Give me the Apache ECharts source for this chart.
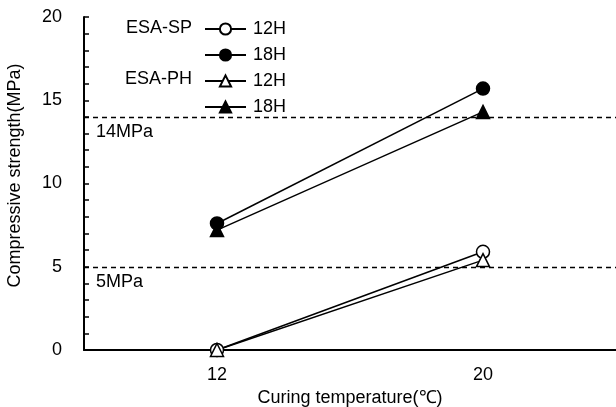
<!DOCTYPE html>
<html><head><meta charset="utf-8">
<script src="https://cdn.jsdelivr.net/npm/echarts@6/dist/echarts.min.js"></script>
<style>html,body{margin:0;padding:0;background:#fff}#c{width:616px;height:407px}</style>
</head><body><div id="c"></div>
<script>
const categories = ['12', '20'];
const spH12 = [0, 5.9];
const spH18 = [7.6, 15.7];
const phH12 = [0, 5.4];
const phH18 = [7.2, 14.3];
const refLines = [14, 5];
const refLabels = ['14MPa', '5MPa'];

const FONT = 'Liberation Sans, Arial, sans-serif';
function mk(name, data, symbol, filled, extra) {
  return Object.assign({
    name: name, type: 'line', data: data, symbol: symbol, symbolSize: 13,
    lineStyle: {color: '#000', width: 1.5},
    itemStyle: {color: filled ? '#000' : '#fff', borderColor: '#000', borderWidth: 1.5},
    z: filled ? 3 : 4
  }, extra || {});
}
const chart = echarts.init(document.getElementById('c'));
chart.setOption({
  animation: false,
  textStyle: {fontFamily: FONT},
  grid: {left: 84, right: 0, top: 17, bottom: 57, containLabel: false, outerBoundsMode: 'none'},
  xAxis: {
    type: 'category', data: categories, boundaryGap: true,
    name: 'Curing temperature(℃)', nameLocation: 'middle', nameGap: 37,
    nameTextStyle: {fontSize: 18, color: '#000', fontFamily: FONT},
    axisLine: {lineStyle: {color: '#000', width: 2}},
    axisTick: {inside: true, length: 5, lineStyle: {color: '#000', width: 1.5}},
    axisLabel: {fontSize: 18, color: '#000', margin: 16, fontFamily: FONT}
  },
  yAxis: {
    type: 'value', min: 0, max: 20, interval: 5,
    name: 'Compressive strength(MPa)', nameLocation: 'middle', nameGap: 60,
    nameTextStyle: {fontSize: 18, color: '#000', fontFamily: FONT, padding: [0, 0, 0, 16]},
    axisLine: {show: true, lineStyle: {color: '#000', width: 2}},
    axisTick: {show: true, inside: true, length: 5, lineStyle: {color: '#000', width: 1.5}},
    minorTick: {show: true, splitNumber: 5, length: 5, lineStyle: {color: '#000', width: 1.5}},
    splitLine: {show: false},
    axisLabel: {fontSize: 18, color: '#000', margin: 22, fontFamily: FONT}
  },
  legend: {
    orient: 'vertical', left: 204, top: 20, padding: 0, itemWidth: 41, itemHeight: 14, itemGap: 8,
    textStyle: {fontSize: 18, color: '#000', fontFamily: FONT, padding: [0,0,0,2]},
    formatter: function (n) { return n.split(' ')[1]; },
    data: ['ESA-SP 12H', 'ESA-SP 18H', 'ESA-PH 12H', 'ESA-PH 18H']
  },
  graphic: [
    {type: 'text', x: 192, y: 28, style: {text: 'ESA-SP', align: 'right', verticalAlign: 'middle', fontSize: 18, fill: '#000', fontFamily: FONT}},
    {type: 'text', x: 192, y: 79, style: {text: 'ESA-PH', align: 'right', verticalAlign: 'middle', fontSize: 18, fill: '#000', fontFamily: FONT}}
  ],
  series: [
    mk('ESA-SP 12H', spH12, 'circle', false, {
      markLine: {
        silent: true, symbol: 'none',
        lineStyle: {color: '#000', type: [5, 4], width: 1.3},
        label: {show: true, position: 'insideStartBottom', formatter: function (p) { return refLabels[p.dataIndex]; }, fontSize: 18, color: '#000', fontFamily: FONT, distance: [12, 6]},
        data: refLines.map(v => ({yAxis: v}))
      }
    }),
    mk('ESA-SP 18H', spH18, 'circle', true),
    mk('ESA-PH 12H', phH12, 'triangle', false),
    mk('ESA-PH 18H', phH18, 'triangle', true)
  ]
});
</script></body></html>
